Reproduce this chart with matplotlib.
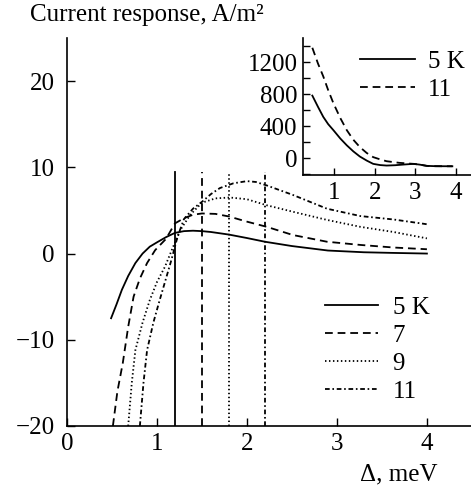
import matplotlib
matplotlib.use("Agg")
import matplotlib.pyplot as plt

plt.rcParams['font.family'] = ['Liberation Serif', 'DejaVu Serif']
plt.rcParams['axes.unicode_minus'] = True

# ---- main panel data ----
labels = ["5 K", "7", "9", "11"]
x5 = [0.49, 0.55, 0.61, 0.68, 0.76, 0.84, 0.92, 1.0, 1.1, 1.2, 1.3, 1.4, 1.5, 1.6, 1.8, 2.0, 2.2, 2.5, 2.9, 3.3, 3.6, 4.0]
y5 = [-7.5, -5.9, -4.2, -2.6, -1.1, 0.0, 0.8, 1.3, 1.9, 2.4, 2.6, 2.65, 2.6, 2.5, 2.2, 1.8, 1.37, 0.87, 0.35, 0.15, 0.08, 0.0]
x7 = [0.51, 0.56, 0.62, 0.68, 0.74, 0.81, 0.89, 0.98, 1.1, 1.2, 1.3, 1.4, 1.5, 1.65, 1.8, 2.0, 2.22, 2.51, 2.89, 3.26, 3.63, 4.0]
y7 = [-20, -16, -12.7, -8.5, -5.0, -2.9, -1.1, 0.4, 1.7, 3.5, 4.1, 4.5, 4.65, 4.6, 4.3, 3.7, 3.1, 2.15, 1.37, 1.0, 0.7, 0.5]
x9 = [0.68, 0.72, 0.76, 0.84, 0.92, 1.0, 1.09, 1.18, 1.27, 1.37, 1.5, 1.65, 1.81, 2.0, 2.22, 2.51, 2.89, 3.26, 3.63, 4.0]
y9 = [-20, -15, -11.2, -8.0, -5.4, -3.3, -1.5, 0.8, 2.9, 4.5, 5.9, 6.4, 6.5, 6.3, 5.6, 4.85, 3.9, 3.1, 2.5, 1.76]
x11 = [0.81, 0.85, 0.89, 0.96, 1.03, 1.1, 1.16, 1.23, 1.3, 1.4, 1.5, 1.6, 1.7, 1.85, 2.0, 2.1, 2.22, 2.51, 2.89, 3.26, 3.63, 4.0]
y11 = [-20, -15, -11.2, -8.0, -5.4, -2.9, -0.75, 2.0, 4.0, 5.2, 6.0, 6.9, 7.6, 8.15, 8.4, 8.3, 7.9, 6.8, 5.2, 4.35, 3.95, 3.4]
vline_x = [1.2, 1.5, 1.8, 2.2]
vline_top = 9.5

# ---- inset data ----
inset_labels = ["5 K", "11"]
xi5 = [0.46, 0.6, 0.73, 0.85, 0.98, 1.15, 1.31, 1.47, 1.63, 1.8, 1.96, 2.13, 2.29, 2.5, 2.75, 2.95, 3.1, 3.28, 3.5, 3.91]
yi5 = [781, 640, 515, 425, 349, 245, 160, 85, 21, -30, -71, -86, -92, -88, -78, -71, -80, -96, -100, -101]
xi11 = [0.46, 0.6, 0.73, 0.85, 0.98, 1.15, 1.31, 1.47, 1.63, 1.8, 1.96, 2.13, 2.29, 2.6, 2.95, 3.1, 3.28, 3.5, 3.91]
yi11 = [1378, 1180, 1020, 850, 685, 500, 349, 230, 139, 65, 13, -15, -38, -58, -71, -80, -96, -100, -101]

styles = ['-', (0, (4.3, 2.7)), (0, (0.8, 1.4)), (0, (2.6, 1.5, 0.9, 1.5))]
FS = 18

fig = plt.figure(figsize=(4.71, 4.87), dpi=100)
ax = fig.add_axes([67/471, 1 - 426/487, 1 - 67/471, (426 - 38)/487])

series = [(x5, y5), (x7, y7), (x9, y9), (x11, y11)]
for (xs, ys), ls, lab in zip(series, styles, labels):
    ax.plot(xs, ys, color='black', linestyle=ls, linewidth=1.3, label=lab)
for xv, ls in zip(vline_x, styles):
    ax.plot([xv, xv], [-20, vline_top], color='black', linestyle=ls, linewidth=1.3)

ax.set_xlim(0, 4.49)
ax.set_ylim(-20, 25)
ax.set_xticks([0, 1, 2, 3, 4])
ax.set_yticks([-20, -10, 0, 10, 20])
ax.tick_params(direction='in', length=6, width=1, labelsize=FS, pad=5)
ax.tick_params(axis='y', pad=9)
for s in ['top', 'right']:
    ax.spines[s].set_visible(False)
for s in ['left', 'bottom']:
    ax.spines[s].set_linewidth(1.2)

ax.legend(loc='upper left', bbox_to_anchor=(0.639, 0.335), frameon=False, fontsize=FS,
          handlelength=2.1, handletextpad=0.6, labelspacing=0.22, borderpad=0,
          borderaxespad=0)

fig.text(30/471, 1 - 21/487, "Current response, A/m²", fontsize=FS, va='baseline', ha='left')
fig.text(438/471, 1 - 480/487, "Δ, meV", fontsize=FS, va='baseline', ha='right')

# ---- inset ----
axi = fig.add_axes([303/471, 1 - 175/487, 1 - 303/471, (175 - 38)/487])
axi.plot(xi5, yi5, color='black', linestyle='-', linewidth=1.3, label=inset_labels[0])
axi.plot(xi11, yi11, color='black', linestyle=(0, (4.3, 2.7)), linewidth=1.3, label=inset_labels[1])
axi.set_xlim(0.23, 4.37)
axi.set_ylim(-210, 1500)
axi.set_xticks([1, 2, 3, 4])
axi.set_yticks(range(-200, 1500, 200))
axi.set_yticklabels(['' if v % 400 else str(v) for v in range(-200, 1500, 200)])
axi.tick_params(direction='in', length=5, width=1, labelsize=FS, pad=5)
axi.tick_params(axis='y', pad=4)
for s in ['top', 'right']:
    axi.spines[s].set_visible(False)
for s in ['left', 'bottom']:
    axi.spines[s].set_linewidth(1.2)
axi.patch.set_alpha(0)
axi.legend(loc='upper left', bbox_to_anchor=(0.34, 0.91), frameon=False, fontsize=FS,
           handlelength=2.2, handletextpad=0.5, labelspacing=0.22, borderpad=0,
           borderaxespad=0)

fig.savefig("out.png", dpi=100)
